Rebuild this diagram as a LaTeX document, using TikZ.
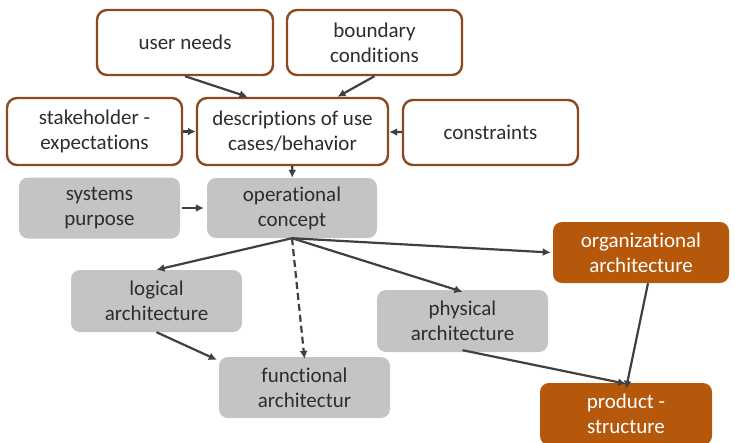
\documentclass[tikz,border=0pt]{standalone}
\usepackage{fontspec}
\setmainfont{Carlito}[Ligatures=NoCommon]
\usepackage{xcolor}
\usepackage{tikz}
\usetikzlibrary{arrows.meta, calc}

\definecolor{rimbrown}{RGB}{140,72,30}
\definecolor{boxgray}{RGB}{196,196,196}
\definecolor{boxorange}{RGB}{181,88,12}
\definecolor{inkgray}{RGB}{45,45,45}
\definecolor{arrowgray}{RGB}{64,64,64}

\tikzset{
  needbox/.style={draw=rimbrown, line width=2.4pt, fill=white, rounded corners=10pt,
    align=center, text=inkgray},
  conceptbox/.style={fill=boxgray, rounded corners=9pt, align=center, text=inkgray},
  orgbox/.style={fill=boxorange, rounded corners=9pt, align=center, text=white},
  flow/.style={->, draw=arrowgray, line width=2.2pt, >={Latex[length=8pt,width=8pt]}}
}

\begin{document}
\begin{tikzpicture}[x=1pt, y=-1pt, font=\fontsize{21}{25}\selectfont]
\useasboundingbox (0,0) rectangle (735,442);

% requirement sources
\node[needbox, minimum width=176pt, minimum height=65pt] (userneeds) at (185,42.5) {user needs};
\node[needbox, minimum width=175pt, minimum height=65pt] (boundary) at (374.5,42.5) {boundary\\conditions};
\node[needbox, minimum width=175pt, minimum height=67pt] (stakeholder) at (94.5,131.5) {stakeholder -\\expectations};
\node[needbox, minimum width=191pt, minimum height=67pt] (usecases) at (292.5,131.5) {descriptions of use\\cases/behavior};
\node[needbox, minimum width=175pt, minimum height=65pt] (constraints) at (490.5,132.5) {constraints};

% concepts
\node[conceptbox, minimum width=161pt, minimum height=61pt] (purpose) at (99.5,208) {systems\\purpose};
\node[conceptbox, minimum width=170pt, minimum height=60pt] (opconcept) at (292,208) {operational\\concept};
\node[conceptbox, minimum width=171pt, minimum height=62pt] (logical) at (156.5,301) {logical\\architecture};
\node[conceptbox, minimum width=171pt, minimum height=61pt] (functional) at (304.5,387.5) {functional\\architectur};
\node[conceptbox, minimum width=171pt, minimum height=62pt] (physical) at (462.5,321) {physical\\architecture};

% organization and product
\node[orgbox, minimum width=176pt, minimum height=61pt] (organizational) at (641,252.5) {organizational\\architecture};
\node[orgbox, minimum width=172pt, minimum height=62pt] (product) at (626,414) {product -\\structure};

\draw[flow] (userneeds.south) -- ([xshift=-45pt]usecases.north);
\draw[flow] (boundary.south) -- ([xshift=45pt]usecases.north);
\draw[flow] (stakeholder) -- (usecases);
\draw[flow] (constraints) -- (usecases);
\draw[flow] (usecases) -- (opconcept);
\draw[flow] ([xshift=2pt]purpose.east) -- ([xshift=-3pt]opconcept.west);

\draw[flow] (opconcept.south) -- (logical.north);
\draw[flow, dash pattern=on 7pt off 4pt] (opconcept.south) -- ([yshift=-2pt]functional.north);
\draw[flow] (opconcept.south) -- ([yshift=-2pt]physical.north);
\draw[flow] (opconcept.south) -- ([xshift=-2pt]organizational.west);

\draw[flow] (logical.south) -- ([xshift=-2pt,yshift=-3pt]functional.north west);
\draw[flow] ([yshift=2pt]physical.south) -- ([yshift=-1pt]product.north);
\draw[flow] ([xshift=7pt]organizational.south) -- ([yshift=-6pt]product.north);
\end{tikzpicture}
\end{document}
